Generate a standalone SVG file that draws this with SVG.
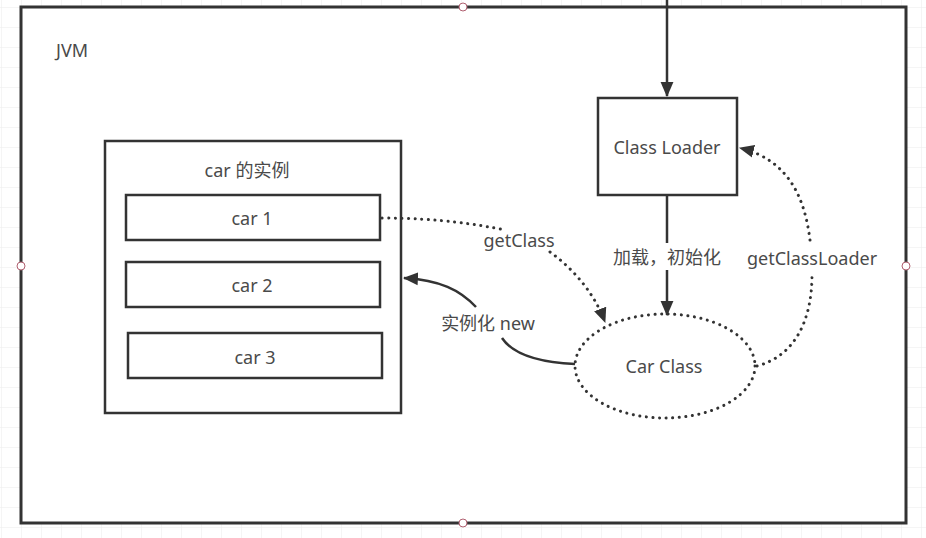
<svg xmlns="http://www.w3.org/2000/svg" width="926" height="538" viewBox="0 0 926 538">
<defs>
<pattern id="grid" width="20" height="20" patternUnits="userSpaceOnUse" x="1" y="7">
<path d="M20 0 H0 V20" fill="none" stroke="#ececec" stroke-width="1"/>
</pattern>
<marker id="arrB" viewBox="0 0 14 14" refX="13" refY="7" markerWidth="15" markerHeight="15" markerUnits="userSpaceOnUse" orient="auto">
<path d="M0 1 L14 7 L0 13 Z" fill="#333"/>
</marker>
</defs>
<style>
.box{fill:#fff;stroke:#333;stroke-width:2.5}
.t{font-family:"Noto Sans","Open Sans","Noto Sans CJK SC",sans-serif;font-size:18px;fill:#4a4a4a;text-anchor:middle;dominant-baseline:central}
.solid{fill:none;stroke:#333;stroke-width:2.5}
.dot{fill:none;stroke:#333;stroke-width:3;stroke-dasharray:0.1 6.5;stroke-linecap:round}
.h{fill:#fff;stroke:#b06070;stroke-width:1}
</style>
<rect width="926" height="538" fill="#fff"/>
<rect width="926" height="538" fill="url(#grid)"/>
<g id="jvm">
<rect x="21" y="7" width="885" height="516" fill="#fff" stroke="#333" stroke-width="3"/>
<text class="t" x="72" y="50">JVM</text>
</g>
<g id="instances">
<rect class="box" x="105" y="141" width="296" height="272"/>
<text class="t" x="247" y="170">car 的实例</text>
</g>
<g id="car1">
<rect class="box" x="126" y="195" width="254" height="45"/>
<text class="t" x="252" y="218">car 1</text>
</g>
<g id="car2">
<rect class="box" x="126" y="262" width="254" height="45"/>
<text class="t" x="252" y="285">car 2</text>
</g>
<g id="car3">
<rect class="box" x="128" y="333" width="254" height="45"/>
<text class="t" x="255" y="357">car 3</text>
</g>
<g id="classloader">
<rect class="box" x="598" y="98" width="139" height="97"/>
<text class="t" x="667" y="147">Class Loader</text>
</g>
<g id="carclass">
<ellipse cx="665" cy="366" rx="90" ry="52" fill="#fff" stroke="#333" stroke-width="3" stroke-dasharray="0.1 6.5" stroke-linecap="round"/>
<text class="t" x="664" y="366">Car Class</text>
</g>
<g id="connectors">
<path class="solid" d="M667 0 V96" marker-end="url(#arrB)"/>
<path class="solid" d="M667 195 V243"/>
<path class="solid" d="M667 270 V315" marker-end="url(#arrB)"/>
<text class="t" x="667" y="257">加载，初始化</text>
<path class="dot" d="M382 218 C440 218 480 225 505 230"/>
<path class="dot" d="M550 252 C575 270 595 295 605 322" marker-end="url(#arrB)"/>
<text class="t" x="519" y="240">getClass</text>
<path class="solid" d="M575 364 C530 362 510 350 502 338"/>
<path class="solid" d="M476 307 C460 290 440 280 404 278" marker-end="url(#arrB)"/>
<text class="t" x="488" y="323">实例化 new</text>
<path class="dot" d="M757 366 C795 356 812 320 812 275"/>
<path class="dot" d="M810 240 C805 200 790 160 740 148" marker-end="url(#arrB)"/>
<text class="t" x="812" y="258">getClassLoader</text>
</g>
<g id="handles">
<circle class="h" cx="463" cy="7" r="4"/>
<circle class="h" cx="21" cy="266" r="4"/>
<circle class="h" cx="906" cy="266" r="4"/>
<circle class="h" cx="463" cy="523" r="4"/>
</g>
</svg>
